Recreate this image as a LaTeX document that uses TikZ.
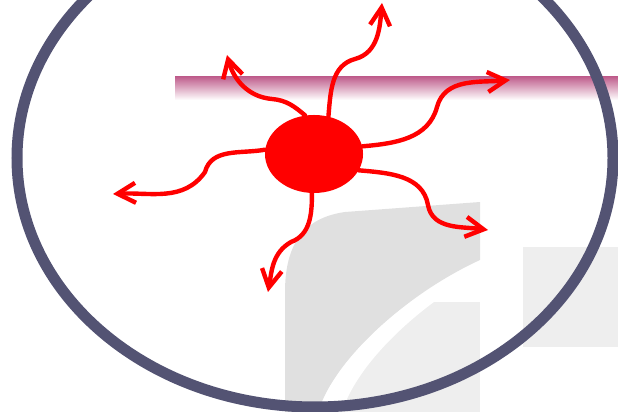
\documentclass[tikz,border=0pt]{standalone}
\usetikzlibrary{arrows.meta,shapes.geometric}
\definecolor{rimblue}{RGB}{83,83,115}
\definecolor{barpink}{RGB}{192,96,142}
\definecolor{fadegray}{RGB}{224,224,224}
\definecolor{palegray}{RGB}{238,238,238}
\begin{document}
\begin{tikzpicture}[x=0.025cm,y=0.025cm,
    ray/.style={draw=red, line width=0.11cm, line cap=round,
      -{Straight Barb[length=0.45cm,width=0.5cm]}},
    blob/.style={ellipse, fill=red, inner sep=0pt,
      minimum width=2.45cm, minimum height=1.95cm}]
  \useasboundingbox (0,0) rectangle (618,412);
  \clip (0,0) rectangle (618,412);
  % Draw the faded background shapes
  \fill[palegray] (310,0) rectangle (480,110);
  \fill[palegray] (523,65) rectangle (618,165);
  \fill[white] (318,0) .. controls (335,55) and (410,120) .. (480,152)
    -- (504,152) .. controls (434,120) and (359,55) .. (342,0) -- cycle;
  \fill[fadegray] (285,0) -- (285,120) .. controls (285,175) and (310,195) .. (345,200)
    -- (480,210) -- (480,152) .. controls (410,120) and (335,55) .. (318,0) -- cycle;
  % Draw the pink bar
  \shade[top color=barpink, bottom color=white] (175,312) rectangle (618,335);
  % Draw the outer ring
  \draw[rimblue, line width=0.275cm] (315,254) ellipse [x radius=298, y radius=249];
  % Place the blob and the bends
  \node[blob] (core) at (314,258) {};
  \coordinate (bendNW) at (272,313);
  \coordinate (tipNW) at (227,357);
  \coordinate (bendN) at (355,353);
  \coordinate (tipN) at (382,409);
  \coordinate (bendNE) at (437,305);
  \coordinate (tipNE) at (510,332);
  \coordinate (bendW) at (205,240);
  \coordinate (tipW) at (113,218);
  \coordinate (bendS) at (291,170);
  \coordinate (tipS) at (268,120);
  \coordinate (bendSE) at (428,207);
  \coordinate (tipSE) at (488,182);
  % Draw the rays
  \draw[ray] (core.103) to[out=140,in=-5] (bendNW) to[out=175,in=-75] (tipNW);
  \draw[ray] (core.69) to[out=85,in=195] (bendN) to[out=15,in=265] (tipN);
  \draw[ray] (core.9) to[out=5,in=-105] (bendNE) to[out=75,in=185] (tipNE);
  \draw[ray] (core.175) to[out=190,in=75] (bendW) to[out=235,in=3] (tipW);
  \draw[ray] (core.267) to[out=-90,in=20] (bendS) to[out=210,in=80] (tipS);
  \draw[ray] (core.340) to[out=-5,in=100] (bendSE) to[out=-80,in=172] (tipSE);
\end{tikzpicture}
\end{document}
